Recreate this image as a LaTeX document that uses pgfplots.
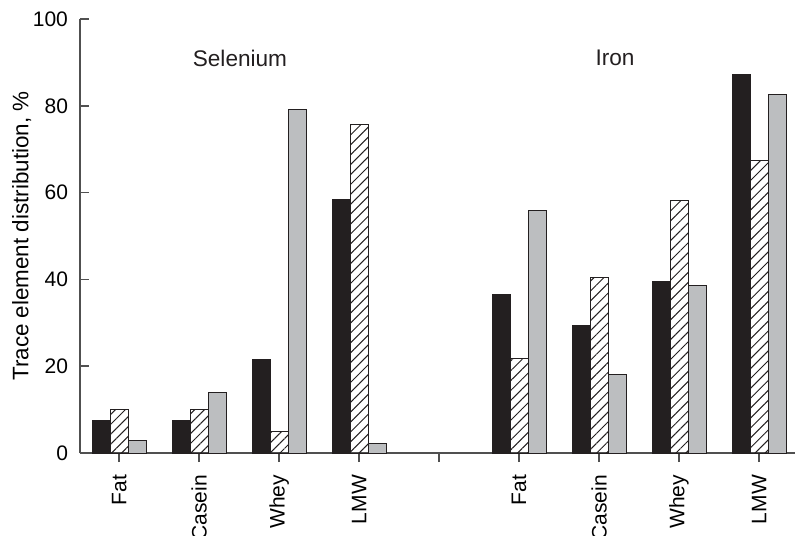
\documentclass[border=0pt]{standalone}
\usepackage{pgfplots}
\pgfplotsset{compat=1.18}
\usepackage{fontspec}
\setmainfont{Liberation Sans}
\usetikzlibrary{patterns.meta}
\definecolor{barblack}{RGB}{35,31,32}
\definecolor{bargray}{RGB}{188,190,192}
\definecolor{axgray}{RGB}{80,80,80}
\begin{document}
\begin{tikzpicture}
\begin{axis}[
  name=ax,
  scale only axis,
  width=357.5pt, height=217pt,
  xmin=-0.49, xmax=8.45,
  ymin=0, ymax=100,
  axis x line=bottom, axis y line=left,
  axis line style={-, draw=axgray, line width=0.75pt},
  xtick={0,...,8},
  xticklabels={Fat,Casein,Whey,LMW,,Fat,Casein,Whey,LMW},
  ytick={0,20,40,60,80,100},
  xtick align=outside,
  ytick align=inside,
  major tick length=4.5pt,
  tick style={draw=axgray, line width=0.75pt},
  x tick label style={rotate=90, anchor=east, xshift=-3pt, font=\fontsize{10.5}{12}\selectfont},
  y tick label style={xshift=-2.5pt, font=\fontsize{10.5}{12}\selectfont},
  /pgf/number format/assume math mode=true,
  ylabel={Trace element distribution, \%},
  ylabel style={font=\fontsize{11.2}{13}\selectfont, yshift=-6pt},
  ybar=0pt, bar width=9pt,
  clip=false,
]
\addplot[fill=barblack, draw=barblack, line width=0.5pt] coordinates {
 (0,7.6) (1,7.6) (2,21.6) (3,58.3) (5,36.6) (6,29.4) (7,39.6) (8,87.2)};
\addplot[draw=barblack, line width=0.5pt, pattern={Lines[angle=45,distance=3.5pt,line width=0.5pt]}, pattern color=barblack] coordinates {
 (0,10.1) (1,10.1) (2,5.0) (3,75.8) (5,21.7) (6,40.4) (7,58.2) (8,67.4)};
\addplot[fill=bargray, draw=barblack, line width=0.5pt] coordinates {
 (0,2.9) (1,14.0) (2,79.1) (3,2.2) (5,55.8) (6,18.1) (7,38.7) (8,82.7)};
\node[font=\fontsize{11.3}{13}\selectfont, text=barblack] at (axis cs:1.51,91) {Selenium};
\node[font=\fontsize{11.3}{13}\selectfont, text=barblack] at (axis cs:6.2,91) {Iron};
\end{axis}
\pgfresetboundingbox
\path[use as bounding box] ([xshift=-40pt, yshift=-41pt]ax.south west) rectangle ([yshift=9.5pt]ax.north east);
\end{tikzpicture}
\end{document}
